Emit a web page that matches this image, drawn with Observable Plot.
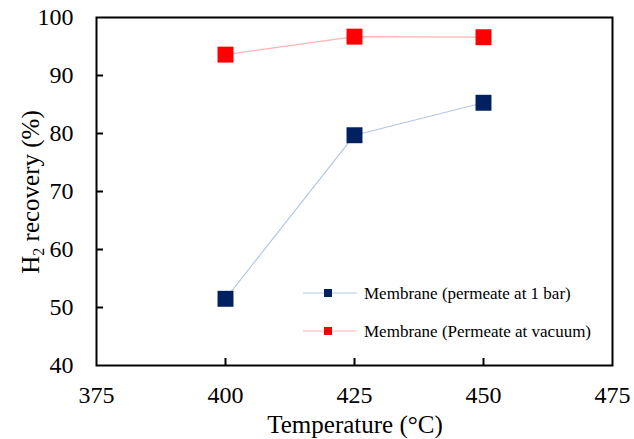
<!DOCTYPE html>
<html>
<head>
<meta charset="utf-8">
<script src="https://cdn.jsdelivr.net/npm/d3@7"></script>
<script src="https://cdn.jsdelivr.net/npm/@observablehq/plot@0.6"></script>
<style>
  html, body { margin: 0; padding: 0; background: #fff; }
  #chart svg { display: block; }
  #chart svg text { font-family: "Liberation Serif", "Times New Roman", serif !important; }
</style>
</head>
<body>
<div id="chart"></div>
<script>
const temperatures = [400, 425, 450];
const recovery1bar = [51.5, 79.7, 85.3];
const recoveryVacuum = [93.6, 96.7, 96.6];
const seriesNames = ["Membrane (permeate at 1 bar)", "Membrane (Permeate at vacuum)"];
const xTicks = [375, 400, 425, 450, 475];
const yTicks = [40, 50, 60, 70, 80, 90, 100];

const markerColors = ["#002060", "#FF0000"];
const lineColors = ["#B4C7E7", "#FFB3B3"];

const rows = [];
[recovery1bar, recoveryVacuum].forEach((vals, s) => {
  temperatures.forEach((t, i) => rows.push({series: seriesNames[s], T: t, R: vals[i]}));
});

const font = "'Liberation Serif', 'Times New Roman', serif";

const plot = Plot.plot({
  width: 634,
  height: 439,
  marginLeft: 96,
  marginRight: 22,
  marginTop: 17,
  marginBottom: 74,
  style: {fontFamily: font, fontSize: "24px", color: "#000", background: "#fff"},
  x: {domain: [375, 475], ticks: xTicks},
  y: {domain: [40, 100], ticks: yTicks},
  color: {domain: seriesNames, range: markerColors},
  marks: [
    // tick labels
    Plot.axisX({ticks: xTicks, tickSize: 0, tickPadding: 20, label: null, fontSize: 24, fill: "#000"}),
    Plot.axisY({ticks: yTicks, tickSize: 0, tickPadding: 23, label: null, fontSize: 24, fill: "#000"}),
    // inward tick marks
    Plot.axisX({ticks: xTicks.slice(1, -1), tickSize: 7, dy: -7, tickFormat: () => "", label: null, strokeWidth: 2, stroke: "#000"}),
    Plot.axisY({ticks: yTicks.slice(1, -1), tickSize: 7, dx: 7, tickFormat: () => "", label: null, strokeWidth: 2, stroke: "#000"}),
    Plot.frame({stroke: "#000", strokeWidth: 2}),
    Plot.line(rows.filter(d => d.series === seriesNames[0]), {x: "T", y: "R", stroke: lineColors[0], strokeWidth: 1.2}),
    Plot.line(rows.filter(d => d.series === seriesNames[1]), {x: "T", y: "R", stroke: lineColors[1], strokeWidth: 1.2}),
    Plot.dot(rows, {x: "T", y: "R", fill: "series", symbol: "square", r: 9})
  ]
});

const svg = d3.select(plot);
svg.selectAll("g[aria-label$='tick label']").style("font-family", font);

// Axis titles
svg.append("text")
  .attr("x", 355).attr("y", 433)
  .attr("text-anchor", "middle")
  .attr("font-family", font).attr("font-size", 25).attr("fill", "#000")
  .text("Temperature (°C)");

const yl = svg.append("text")
  .attr("transform", "translate(39,192) rotate(-90)")
  .attr("text-anchor", "middle")
  .attr("font-family", font).attr("font-size", 25).attr("fill", "#000");
yl.append("tspan").text("H");
yl.append("tspan").attr("font-size", 16).attr("dy", 5).text("2");
yl.append("tspan").attr("dy", -5).text(" recovery (%)");

// Legend
const legendRows = [293, 331];
seriesNames.forEach((name, i) => {
  const g = svg.append("g").attr("transform", `translate(0,${legendRows[i]})`);
  g.append("line").attr("x1", 303).attr("x2", 357).attr("y1", 0).attr("y2", 0)
    .attr("stroke", lineColors[i]).attr("stroke-width", 1.2);
  g.append("rect").attr("x", 324).attr("y", -4).attr("width", 8).attr("height", 8)
    .attr("fill", markerColors[i]);
  g.append("text").attr("x", 364).attr("y", 0).attr("dy", "0.35em")
    .attr("text-anchor", "start")
    .attr("font-family", font).attr("font-size", 17).attr("fill", "#000")
    .text(name);
});

document.getElementById("chart").appendChild(plot);
</script>
</body>
</html>
